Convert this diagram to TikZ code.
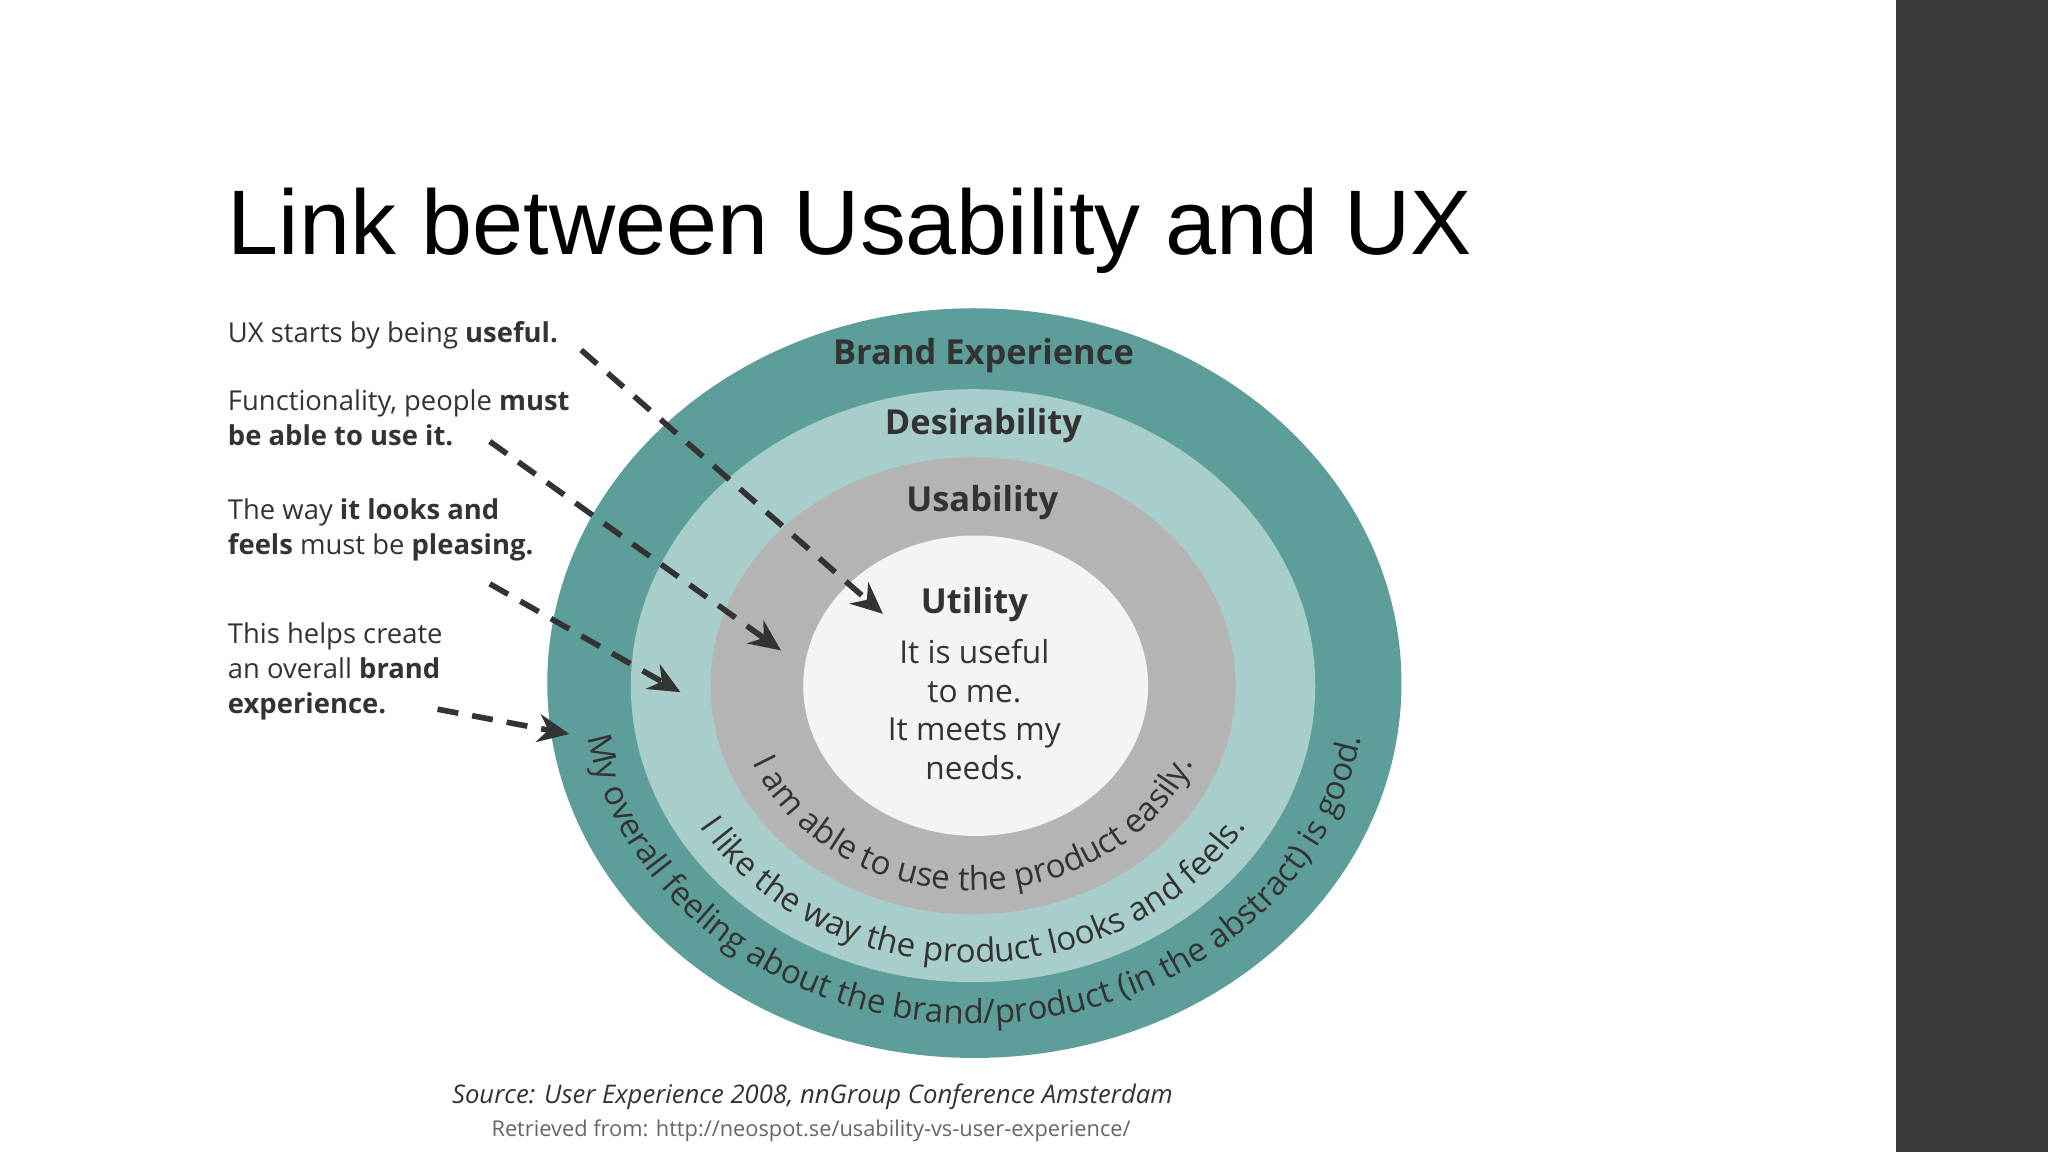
\documentclass[tikz,border=0pt]{standalone}
\usepackage{fontspec}
\setmainfont{Open Sans}
\newfontfamily\titlefont{Liberation Sans}
\usetikzlibrary{decorations.text,arrows.meta}
\definecolor{outerc}{HTML}{5E9E9A}
\definecolor{midc}{HTML}{A8CECB}
\definecolor{grayc}{HTML}{B4B4B4}
\definecolor{innerc}{HTML}{F4F4F4}
\definecolor{txt}{HTML}{333333}
\definecolor{barc}{HTML}{3A3A3A}
\tikzset{
  ann/.style={anchor=north west,align=left,font=\fontsize{7.8}{10}\selectfont,text=txt,inner sep=0},
  lab/.style={font=\bfseries\fontsize{9.8}{12}\selectfont,text=txt},
  dasharrow/.style={dashed,line width=1.6pt,dash pattern=on 6pt off 4pt,-{Stealth[length=9pt,width=8pt]},txt},
  curvetext/.style={decorate,decoration={text along path,text align={align=center},
    text={|\fontsize{9.4}{12}\selectfont\color{txt}|#1}}}
}
\begin{document}
\begin{tikzpicture}[x=0.013061cm,y=0.013061cm]
\useasboundingbox (0,0) rectangle (1568,-882);
\fill[white] (0,0) rectangle (1568,-882);
\fill[barc] (1452,0) rectangle (1568,-882);
\node[anchor=base west,inner sep=0,font=\titlefont\fontsize{26.1}{30}\selectfont] (title) at (174,-195) {Link between Usability and UX};
% ellipses
\fill[outerc] (746,-523) ellipse [x radius=327,y radius=287];
\fill[midc] (745,-525) ellipse [x radius=262,y radius=227];
\fill[grayc] (745,-525) ellipse [x radius=201,y radius=175];
\fill[innerc] (747,-525) ellipse [x radius=132,y radius=115];
\node[lab] (brand) at (753,-272) {Brand Experience};
\node[lab] (des) at (753,-326) {Desirability};
\node[lab] (usa) at (752,-385) {Usability};
\node[lab] (util) at (746,-463) {Utility};
\node[align=center,font=\fontsize{9}{11}\selectfont,text=txt,anchor=north] (utiltext) at (746,-480) {It is useful\\to me.\\It meets my\\needs.};
% curved texts
\path[curvetext={My overall feeling about the brand/product (in the abstract) is good.}]
  (746,-522) ++(182:300 and 262) arc[start angle=182,end angle=358,x radius=300,y radius=262];
\path[curvetext={I like the way the product looks and feels.}]
  (745,-525) ++(185:243 and 212) arc[start angle=185,end angle=355,x radius=243,y radius=212];
\path[curvetext={I am able to use the product easily.}]
  (745,-525) ++(185:182 and 157) arc[start angle=185,end angle=355,x radius=182,y radius=157];
% annotations
\node[ann] (a1) at (174,-246) {UX starts by being \textbf{useful.}};
\node[ann] (a2) at (174,-298) {Functionality, people \textbf{must}\\\textbf{be able to use it.}};
\node[ann] (a3) at (174,-381) {The way \textbf{it looks and}\\\textbf{feels} must be \textbf{pleasing.}};
\node[ann] (a4) at (174,-476) {This helps create\\an overall \textbf{brand}\\\textbf{experience.}};
\coordinate (s1) at (445,-268); \coordinate (e1) at (676,-470);
\coordinate (s2) at (375,-338); \coordinate (e2) at (598,-498);
\coordinate (s3) at (375,-447); \coordinate (e3) at (521,-530);
\coordinate (s4) at (335,-543); \coordinate (e4) at (436,-562);
\draw[dasharrow] (s1) -- (e1);
\draw[dasharrow] (s2) -- (e2);
\draw[dasharrow] (s3) -- (e3);
\draw[dasharrow] (s4) -- (e4);
\node[font=\itshape\fontsize{7.3}{9}\selectfont,text=txt] (src) at (622,-840) {Source: User Experience 2008, nnGroup Conference Amsterdam};
\node[font=\fontsize{6.2}{8}\selectfont,text=black!60] (ret) at (621,-866) {Retrieved from: http://neospot.se/usability-vs-user-experience/};
\end{tikzpicture}
\end{document}
